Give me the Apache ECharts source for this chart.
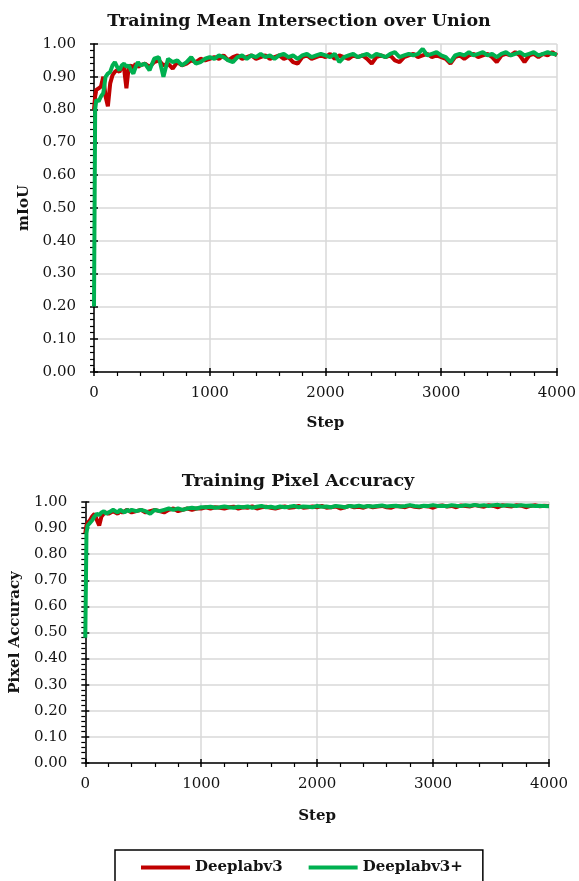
<!DOCTYPE html>
<html><head><meta charset="utf-8">
<script src="https://cdn.jsdelivr.net/npm/echarts@6/dist/echarts.min.js"></script>
<style>html,body{margin:0;padding:0;background:#fff}#c{width:579px;height:881px}</style>
</head><body><div id="c"></div>
<script>
var steps = [0,10,20,30,40,60,80,100,120,140,160,180,200,220,240,260,280,300,320,340,360,380,400,
440,480,520,560,600,640,680,720,760,800,
840,880,920,960,1000,1040,1080,1120,1160,1200,
1240,1280,1320,1360,1400,1440,1480,1520,1560,1600,
1640,1680,1720,1760,1800,1840,1880,1920,1960,2000,
2040,2080,2120,2160,2200,2240,2280,2320,2360,2400,
2440,2480,2520,2560,2600,2640,2680,2720,2760,2800,
2840,2880,2920,2960,3000,3040,3080,3120,3160,3200,
3240,3280,3320,3360,3400,3440,3480,3520,3560,3600,
3640,3680,3720,3760,3800,3840,3880,3920,3960,4000];

var miouV3 = [0.80,0.84,0.86,0.86,0.865,0.87,0.90,0.84,0.81,0.88,0.905,0.915,0.92,0.915,0.93,0.925,0.865,0.93,0.935,0.925,0.94,0.93,0.935,
0.94,0.93,0.945,0.95,0.935,0.94,0.925,0.945,0.935,0.94,
0.95,0.945,0.955,0.95,0.955,0.96,0.955,0.965,0.95,0.96,
0.965,0.955,0.96,0.965,0.955,0.96,0.965,0.955,0.96,0.965,
0.955,0.96,0.945,0.94,0.96,0.965,0.955,0.96,0.965,0.96,
0.97,0.955,0.965,0.96,0.955,0.965,0.96,0.965,0.955,0.94,
0.96,0.965,0.96,0.965,0.95,0.945,0.96,0.965,0.97,0.96,
0.965,0.97,0.96,0.965,0.96,0.955,0.94,0.96,0.965,0.955,
0.965,0.97,0.96,0.965,0.97,0.96,0.945,0.965,0.97,0.965,
0.975,0.965,0.945,0.965,0.97,0.96,0.97,0.965,0.975,0.965];

var miouV3p = [0.20,0.80,0.83,0.83,0.825,0.84,0.85,0.90,0.91,0.915,0.935,0.945,0.93,0.92,0.935,0.94,0.93,0.935,0.92,0.91,0.93,0.945,0.935,
0.94,0.92,0.955,0.96,0.90,0.955,0.945,0.95,0.935,0.945,
0.96,0.94,0.945,0.955,0.96,0.955,0.965,0.96,0.95,0.945,
0.96,0.965,0.955,0.965,0.96,0.97,0.96,0.965,0.955,0.965,
0.97,0.96,0.965,0.955,0.965,0.97,0.96,0.965,0.97,0.965,
0.96,0.97,0.945,0.96,0.965,0.97,0.96,0.965,0.97,0.96,
0.97,0.965,0.96,0.97,0.975,0.96,0.965,0.97,0.965,0.97,
0.985,0.965,0.97,0.975,0.965,0.96,0.945,0.965,0.97,0.965,
0.975,0.965,0.97,0.975,0.965,0.97,0.96,0.97,0.975,0.965,
0.97,0.975,0.965,0.97,0.975,0.965,0.97,0.975,0.97,0.968];

var paV3 = [0.88,0.91,0.92,0.925,0.93,0.945,0.955,0.93,0.91,0.945,0.955,0.96,0.955,0.96,0.965,0.96,0.955,0.965,0.96,0.965,0.97,0.965,0.96,
0.965,0.97,0.96,0.965,0.97,0.965,0.96,0.97,0.975,0.965,
0.97,0.975,0.97,0.975,0.975,0.98,0.975,0.98,0.978,0.975,
0.98,0.982,0.975,0.98,0.978,0.983,0.975,0.98,0.982,0.978,
0.975,0.98,0.983,0.978,0.98,0.985,0.978,0.98,0.983,0.98,
0.985,0.978,0.98,0.983,0.975,0.98,0.985,0.98,0.982,0.978,
0.985,0.98,0.983,0.985,0.98,0.978,0.985,0.983,0.98,0.986,
0.982,0.98,0.985,0.983,0.978,0.985,0.987,0.983,0.985,0.98,
0.987,0.985,0.983,0.988,0.985,0.982,0.988,0.985,0.98,0.988,
0.985,0.983,0.988,0.986,0.98,0.985,0.988,0.984,0.986,0.985];

var paV3p = [0.48,0.88,0.91,0.915,0.92,0.93,0.945,0.955,0.95,0.96,0.965,0.955,0.96,0.965,0.97,0.965,0.96,0.97,0.965,0.96,0.97,0.965,0.97,
0.965,0.97,0.965,0.955,0.97,0.965,0.97,0.975,0.97,0.975,
0.97,0.975,0.978,0.975,0.98,0.98,0.982,0.978,0.98,0.983,
0.98,0.978,0.982,0.98,0.983,0.978,0.982,0.985,0.98,0.982,
0.978,0.983,0.98,0.982,0.985,0.98,0.983,0.982,0.98,0.985,
0.982,0.983,0.98,0.985,0.983,0.98,0.985,0.983,0.986,0.982,
0.985,0.983,0.985,0.987,0.983,0.985,0.986,0.983,0.985,0.988,
0.985,0.983,0.986,0.985,0.988,0.985,0.986,0.984,0.988,0.986,
0.985,0.988,0.986,0.989,0.986,0.988,0.985,0.988,0.989,0.986,
0.988,0.987,0.985,0.988,0.986,0.987,0.985,0.986,0.985,0.984];

var xTicks = {min: 0, max: 4000, interval: 1000};
var yTicks = {min: 0, max: 1, interval: 0.1};
var names = ['Deeplabv3', 'Deeplabv3+'];
var colors = ['#c00000', '#00b050'];

function pairs(vals){ return steps.map(function(s,i){ return [s, vals[i]]; }); }

var FONT = '"DejaVu Serif", "Liberation Serif", serif';
var TXT = '#141414';

function mainX(grid, nameGap){
  return {gridIndex: grid, type:'value', position:'bottom', min:xTicks.min, max:xTicks.max, interval:xTicks.interval,
    name:'Step', nameLocation:'middle', nameGap:nameGap,
    nameTextStyle:{fontFamily:FONT, fontWeight:'bold', fontSize:15, color:TXT},
    axisLine:{show:true, onZero:false, lineStyle:{color:'#000', width:1.5}},
    axisTick:{show:true, inside:false, length:4, lineStyle:{color:'#000', width:1.5}},
    minorTick:{show:true, splitNumber:5, length:4, lineStyle:{color:'#000', width:1.2}},
    splitLine:{show:true, lineStyle:{color:'#d9d9d9', width:1.5}},
    axisLabel:{fontFamily:FONT, fontSize:15, color:TXT, margin:14, formatter:function(v){return String(v);}}};
}
function overX(grid){
  return {gridIndex: grid, type:'value', position:'bottom', min:xTicks.min, max:xTicks.max, interval:xTicks.interval,
    axisLine:{show:false, onZero:false}, axisLabel:{show:false}, splitLine:{show:false},
    axisTick:{show:true, inside:true, length:4, lineStyle:{color:'#000', width:1.5}}};
}
function mainY(grid, name, nameGap){
  return {gridIndex: grid, type:'value', position:'left', min:yTicks.min, max:yTicks.max, interval:yTicks.interval,
    name:name, nameLocation:'middle', nameGap:nameGap,
    nameTextStyle:{fontFamily:FONT, fontWeight:'bold', fontSize:15, color:TXT},
    axisLine:{show:true, onZero:false, lineStyle:{color:'#000', width:1.5}},
    axisTick:{show:true, inside:false, length:4, lineStyle:{color:'#000', width:1.5}},
    minorTick:{show:true, splitNumber:5, length:4, lineStyle:{color:'#000', width:1.2}},
    splitLine:{show:true, lineStyle:{color:'#d9d9d9', width:1.5}},
    axisLabel:{fontFamily:FONT, fontSize:15, color:TXT, margin:18, formatter:function(v){return v.toFixed(2);}}};
}
function overY(grid){
  return {gridIndex: grid, type:'value', position:'left', min:yTicks.min, max:yTicks.max, interval:yTicks.interval,
    axisLine:{show:false, onZero:false}, axisLabel:{show:false}, splitLine:{show:false},
    axisTick:{show:true, inside:true, length:4, lineStyle:{color:'#000', width:1.5}}};
}
function line(idx, axis, vals){
  return {type:'line', name:names[idx], xAxisIndex:axis, yAxisIndex:axis, data:pairs(vals),
    showSymbol:false, symbol:'none', color:colors[idx], z: 2+idx,
    lineStyle:{color:colors[idx], width:4}};
}

var chart = echarts.init(document.getElementById('c'), null, {renderer:'canvas'});
chart.setOption({
  animation:false,
  backgroundColor:'#fff',
  title:[
    {text:'Training Mean Intersection over Union', left:294, top:7, textAlign:'center',
     textStyle:{fontFamily:FONT, fontWeight:'bold', fontSize:17.5, color:TXT}},
    {text:'Training Pixel Accuracy', left:293, top:467, textAlign:'center',
     textStyle:{fontFamily:FONT, fontWeight:'bold', fontSize:17.5, color:TXT}}
  ],
  grid:[
    {left:94, right:19, top:44, height:328},
    {left:84, right:30, top:502, height:261}
  ],
  xAxis:[mainX(0,44), overX(0), mainX(1,46), overX(1)],
  yAxis:[mainY(0,'mIoU',62), overY(0), mainY(1,'Pixel Accuracy',62), overY(1)],
  legend:{data:names, left:115, top:850, icon:'rect', itemWidth:49, itemHeight:4, itemGap:26,
    padding:[10,20,20,26], borderColor:'#000', borderWidth:1.5,
    textStyle:{fontFamily:FONT, fontWeight:'bold', fontSize:15, color:TXT}},
  series:[line(0,0,miouV3), line(1,0,miouV3p), line(0,2,paV3), line(1,2,paV3p)]
});
</script></body></html>
